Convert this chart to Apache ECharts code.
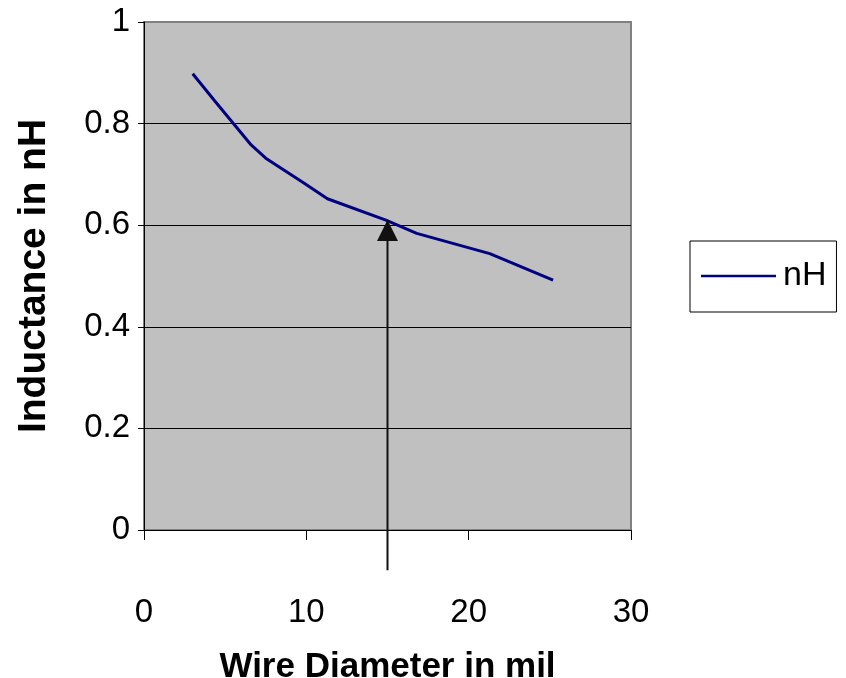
<!DOCTYPE html>
<html>
<head>
<meta charset="utf-8">
<script src="https://cdn.jsdelivr.net/npm/echarts@6/dist/echarts.min.js"></script>
<style>
html,body{margin:0;padding:0;background:#fff;}
#chart{width:846px;height:678px;}
</style>
</head>
<body>
<div id="chart"></div>
<script>
var seriesName = 'nH';
var diameters = [3.0, 4.4, 6.6, 7.5, 9.8, 11.3, 14.9, 16.8, 21.3, 25.2];
var inductance = [0.898, 0.843, 0.758, 0.732, 0.684, 0.652, 0.610, 0.584, 0.544, 0.492];
var arrowX = 15;
var arrowFrom = -0.079;
var arrowTo = 0.61;
var xTicks = [0, 10, 20, 30];
var yTicks = [0, 0.2, 0.4, 0.6, 0.8, 1];

var font = '"Liberation Sans", Arial, sans-serif';
var chart = echarts.init(document.getElementById('chart'));
chart.setOption({
  animation: false,
  backgroundColor: '#ffffff',
  grid: {
    left: 144, right: 215, top: 22, bottom: 148,
    outerBoundsMode: 'none', containLabel: false,
    show: true, backgroundColor: '#c0c0c0', borderColor: '#808080', borderWidth: 2
  },
  legend: {
    data: [seriesName],
    left: 690, top: 241,
    orient: 'vertical',
    padding: [18, 10, 19, 11],
    borderColor: '#000', borderWidth: 1, borderRadius: 0,
    backgroundColor: '#fff',
    itemWidth: 75, itemHeight: 14,
    itemGap: 0,
    textStyle: { fontFamily: font, fontSize: 34, color: '#000', padding: [0, 0, 0, 2] },
    icon: 'path://M0,6 L75,6 L75,8.5 L0,8.5 Z'
  },
  xAxis: {
    type: 'value', min: xTicks[0], max: xTicks[xTicks.length - 1], interval: 10,
    name: 'Wire Diameter in mil', nameLocation: 'middle', nameGap: 120,
    nameTextStyle: { fontFamily: font, fontSize: 35, fontWeight: 'bold', color: '#000' },
    axisLine: { show: true, onZero: false, lineStyle: { color: '#000', width: 1 } },
    axisTick: { show: true, length: 10, lineStyle: { color: '#000' } },
    axisLabel: { fontFamily: font, fontSize: 33, color: '#000', margin: 66 },
    splitLine: { show: false }
  },
  yAxis: {
    type: 'value', min: yTicks[0], max: yTicks[yTicks.length - 1], interval: 0.2,
    name: 'Inductance in nH', nameLocation: 'middle', nameGap: 90, nameRotate: 90,
    nameTextStyle: { fontFamily: font, fontSize: 39, fontWeight: 'bold', color: '#000' },
    axisLine: { show: true, lineStyle: { color: '#000', width: 1 } },
    axisTick: { show: true, length: 6, lineStyle: { color: '#000' } },
    axisLabel: { fontFamily: font, fontSize: 33, color: '#000', margin: 14,
      formatter: function (v) { return String(Math.round(v * 10) / 10); } },
    splitLine: { show: true, showMaxLine: false, showMinLine: false, lineStyle: { color: '#000', width: 1 } }
  },
  series: [
    {
      name: seriesName, type: 'line',
      data: diameters.map(function (d, i) { return [d, inductance[i]]; }),
      showSymbol: false, symbol: 'none',
      lineStyle: { color: '#000080', width: 3 },
      itemStyle: { color: '#000080' },
      z: 3
    },
    {
      name: 'arrow', type: 'line', clip: false,
      data: [
        { value: [arrowX, arrowFrom], symbol: 'none' },
        { value: [arrowX, arrowTo], symbol: 'triangle', symbolSize: [21, 21], symbolOffset: [0, 10.5] }
      ],
      showSymbol: true, showAllSymbol: true,
      lineStyle: { color: '#111', width: 2 },
      itemStyle: { color: '#111', borderWidth: 0 },
      z: 4, silent: true
    }
  ]
});
</script>
</body>
</html>
